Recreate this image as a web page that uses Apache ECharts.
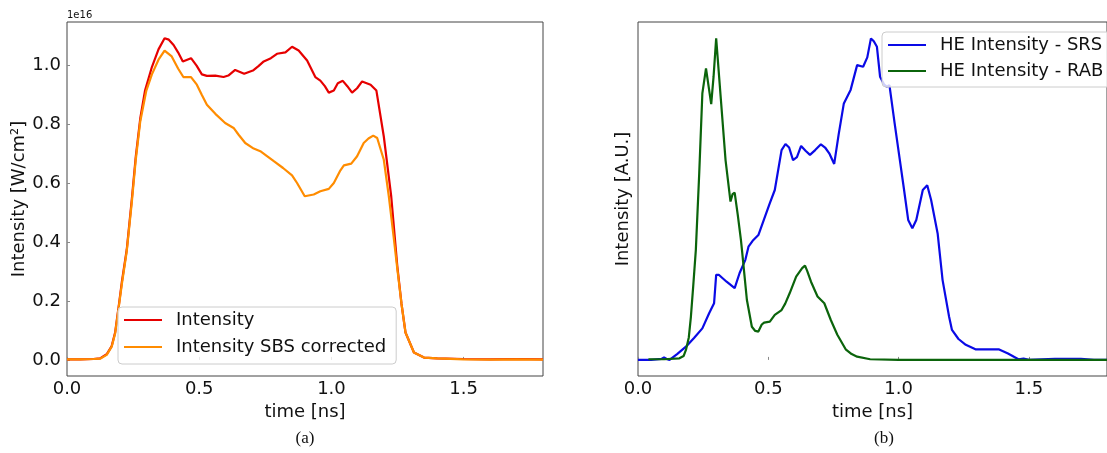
<!DOCTYPE html>
<html>
<head>
<meta charset="utf-8">
<script src="https://cdn.jsdelivr.net/npm/echarts@6/dist/echarts.min.js"></script>
<style>
  html, body { margin: 0; padding: 0; background: #fff; }
  #chart { width: 1107px; height: 453px; }
</style>
</head>
<body>
<div id="chart"></div>
<script>
// ---- Panel (a): laser intensity, units of 1e16 W/cm^2 ----
const timeIntensity = [0, 0.05, 0.10, 0.125, 0.15, 0.169, 0.182, 0.194, 0.207, 0.226, 0.245, 0.26, 0.277, 0.295, 0.321, 0.346, 0.369, 0.385, 0.403, 0.42, 0.438, 0.469, 0.49, 0.51, 0.529, 0.561, 0.592, 0.61, 0.636, 0.670, 0.703, 0.724, 0.744, 0.771, 0.794, 0.826, 0.851, 0.876, 0.908, 0.939, 0.958, 0.975, 0.990, 1.009, 1.024, 1.043, 1.06, 1.078, 1.097, 1.116, 1.148, 1.170, 1.198, 1.226, 1.249, 1.265, 1.280, 1.312, 1.35, 1.4, 1.5, 1.6, 1.7, 1.8];
const intensity = [0.002, 0.002, 0.003, 0.005, 0.019, 0.047, 0.093, 0.172, 0.262, 0.375, 0.545, 0.69, 0.82, 0.915, 0.995, 1.055, 1.093, 1.088, 1.070, 1.045, 1.014, 1.025, 1.000, 0.970, 0.965, 0.966, 0.961, 0.966, 0.985, 0.972, 0.983, 0.998, 1.014, 1.025, 1.040, 1.045, 1.064, 1.051, 1.017, 0.961, 0.949, 0.93, 0.908, 0.915, 0.940, 0.948, 0.93, 0.908, 0.923, 0.946, 0.935, 0.915, 0.759, 0.556, 0.319, 0.19, 0.093, 0.025, 0.008, 0.005, 0.003, 0.002, 0.003, 0.002];

const timeCorrected = [0, 0.05, 0.10, 0.125, 0.15, 0.169, 0.182, 0.194, 0.207, 0.226, 0.245, 0.26, 0.277, 0.30, 0.321, 0.346, 0.369, 0.396, 0.42, 0.440, 0.469, 0.491, 0.51, 0.529, 0.561, 0.598, 0.630, 0.649, 0.674, 0.706, 0.731, 0.755, 0.782, 0.817, 0.851, 0.870, 0.899, 0.933, 0.958, 0.990, 1.009, 1.034, 1.047, 1.075, 1.097, 1.122, 1.140, 1.158, 1.173, 1.198, 1.217, 1.235, 1.249, 1.265, 1.280, 1.312, 1.35, 1.4, 1.5, 1.6, 1.7, 1.8];
const sbsCorrected = [0.002, 0.002, 0.003, 0.004, 0.017, 0.045, 0.09, 0.168, 0.255, 0.37, 0.535, 0.68, 0.81, 0.915, 0.97, 1.02, 1.051, 1.031, 0.99, 0.961, 0.961, 0.935, 0.90, 0.867, 0.836, 0.805, 0.788, 0.765, 0.737, 0.718, 0.709, 0.693, 0.675, 0.652, 0.627, 0.601, 0.556, 0.562, 0.573, 0.581, 0.601, 0.644, 0.661, 0.667, 0.692, 0.737, 0.752, 0.762, 0.754, 0.680, 0.556, 0.42, 0.31, 0.19, 0.093, 0.025, 0.008, 0.005, 0.002, 0.001, 0.002, 0.001];

// ---- Panel (b): normalised hot-electron intensity ----
const timeSRS = [0.0, 0.05, 0.09, 0.1, 0.11, 0.121, 0.15, 0.184, 0.215, 0.247, 0.273, 0.292, 0.300, 0.311, 0.34, 0.371, 0.39, 0.412, 0.424, 0.44, 0.462, 0.485, 0.506, 0.525, 0.551, 0.566, 0.580, 0.595, 0.610, 0.626, 0.643, 0.660, 0.680, 0.702, 0.718, 0.734, 0.753, 0.770, 0.790, 0.816, 0.841, 0.864, 0.880, 0.894, 0.905, 0.917, 0.929, 0.945, 0.955, 0.965, 0.985, 1.005, 1.020, 1.037, 1.053, 1.068, 1.093, 1.110, 1.125, 1.150, 1.169, 1.194, 1.205, 1.23, 1.258, 1.295, 1.33, 1.384, 1.42, 1.46, 1.48, 1.50, 1.6, 1.7, 1.75, 1.8];
const heSRS = [0, 0, 0.003, 0.008, 0.003, 0, 0.018, 0.041, 0.068, 0.098, 0.145, 0.176, 0.264, 0.264, 0.243, 0.223, 0.27, 0.311, 0.352, 0.37, 0.388, 0.44, 0.487, 0.528, 0.652, 0.671, 0.66, 0.621, 0.63, 0.665, 0.65, 0.637, 0.652, 0.670, 0.66, 0.642, 0.609, 0.70, 0.797, 0.839, 0.916, 0.911, 0.94, 0.999, 0.99, 0.973, 0.880, 0.855, 0.849, 0.854, 0.735, 0.621, 0.535, 0.435, 0.409, 0.435, 0.528, 0.543, 0.497, 0.393, 0.248, 0.134, 0.093, 0.065, 0.047, 0.033, 0.033, 0.033, 0.02, 0.002, 0.004, 0.0, 0.003, 0.003, 0.0, 0.0];

const timeRAB = [0.04, 0.10, 0.159, 0.175, 0.184, 0.195, 0.203, 0.212, 0.222, 0.235, 0.247, 0.261, 0.271, 0.281, 0.290, 0.300, 0.318, 0.336, 0.355, 0.363, 0.371, 0.383, 0.395, 0.399, 0.418, 0.437, 0.450, 0.462, 0.475, 0.484, 0.506, 0.525, 0.551, 0.565, 0.582, 0.607, 0.630, 0.641, 0.650, 0.664, 0.689, 0.715, 0.740, 0.765, 0.797, 0.820, 0.841, 0.891, 1.0, 1.2, 1.4, 1.6, 1.8];
const heRAB = [0.002, 0.002, 0.005, 0.012, 0.031, 0.07, 0.134, 0.23, 0.342, 0.58, 0.828, 0.906, 0.85, 0.795, 0.88, 0.999, 0.81, 0.621, 0.492, 0.515, 0.520, 0.45, 0.373, 0.342, 0.186, 0.103, 0.09, 0.088, 0.11, 0.116, 0.119, 0.140, 0.155, 0.175, 0.207, 0.259, 0.285, 0.293, 0.275, 0.243, 0.197, 0.176, 0.124, 0.078, 0.033, 0.018, 0.010, 0.002, 0.0, 0.0, 0.0, 0.0, 0.0];

// ---- Tick labels ----
const timeTicks = [0, 0.5, 1.0, 1.5];
const intensityTicks = [0, 0.2, 0.4, 0.6, 0.8, 1.0];

const pairs = (xs, ys) => xs.map((x, i) => [x, ys[i]]);

const FONT = 'DejaVu Sans';
const INK = '#111';
const SPINE = '#444';
const TICK = '#8a8a8a';

function timeAxis(gridIndex) {
  return {
    type: 'value', gridIndex: gridIndex, min: 0, max: 1.8,
    axisLine: { show: false },
    splitLine: { show: false },
    axisTick: { show: true, inside: true, length: 3, customValues: timeTicks,
                lineStyle: { color: TICK, width: 1 } },
    axisLabel: { customValues: timeTicks, margin: 4, fontSize: 18, fontFamily: FONT, color: INK,
                 formatter: v => v.toFixed(1) },
    name: 'time [ns]', nameLocation: 'middle', nameGap: 25,
    nameTextStyle: { fontSize: 18, fontFamily: FONT, color: INK }
  };
}

function legendBox(left, top, pad, gap) {
  return {
    orient: 'vertical', left: left, top: top, padding: pad, itemGap: gap,
    icon: 'rect', itemWidth: 38, itemHeight: 2,
    backgroundColor: 'rgba(255,255,255,0.8)', borderColor: '#cccccc', borderWidth: 1, borderRadius: 4,
    textStyle: { fontSize: 18, fontFamily: FONT, color: INK, lineHeight: 20, padding: [0, 0, 0, 9] }
  };
}

const chart = echarts.init(document.getElementById('chart'), null, { renderer: 'canvas' });

chart.setOption({
  animation: false,
  backgroundColor: '#ffffff',
  grid: [
    { left: 67, top: 22, width: 476, height: 354, show: true, borderColor: SPINE, borderWidth: 1, backgroundColor: 'transparent' },
    { left: 638, top: 22, width: 475, height: 354, show: true, borderColor: SPINE, borderWidth: 1, backgroundColor: 'transparent' }
  ],
  xAxis: [timeAxis(0), timeAxis(1)],
  yAxis: [
    {
      type: 'value', gridIndex: 0, min: -0.0547, max: 1.148,
      axisLine: { show: false },
      splitLine: { show: false },
      axisTick: { show: true, inside: true, length: 3, customValues: intensityTicks,
                  lineStyle: { color: TICK, width: 1 } },
      axisLabel: { customValues: intensityTicks, margin: 6, fontSize: 18, fontFamily: FONT, color: INK,
                   formatter: v => v.toFixed(1) },
      name: 'Intensity [W/cm²]', nameLocation: 'middle', nameGap: 38,
      nameTextStyle: { fontSize: 18, fontFamily: FONT, color: INK }
    },
    {
      type: 'value', gridIndex: 1, min: -0.05, max: 1.05,
      axisLine: { show: false },
      splitLine: { show: false },
      axisTick: { show: false },
      axisLabel: { show: false },
      name: 'Intensity [A.U.]', nameLocation: 'middle', nameGap: 6,
      nameTextStyle: { fontSize: 18, fontFamily: FONT, color: INK }
    }
  ],
  legend: [
    Object.assign(legendBox(118, 307, [3, 10, 7, 6], 7), { data: ['Intensity', 'Intensity SBS corrected'] }),
    Object.assign(legendBox(882, 32, [3, 9, 6, 6], 6), { data: ['HE Intensity - SRS', 'HE Intensity - RAB'] })
  ],
  graphic: [
    { type: 'text', left: 67, top: 10, style: { text: '1e16', fontSize: 10, fontFamily: FONT, fill: INK } },
    { type: 'text', x: 305, y: 439, style: { text: '(a)', fontSize: 17, fontFamily: 'Liberation Serif', fill: INK, align: 'center', verticalAlign: 'middle' } },
    { type: 'text', x: 884, y: 439, style: { text: '(b)', fontSize: 17, fontFamily: 'Liberation Serif', fill: INK, align: 'center', verticalAlign: 'middle' } }
  ],
  series: [
    { name: 'Intensity', type: 'line', xAxisIndex: 0, yAxisIndex: 0, data: pairs(timeIntensity, intensity),
      symbol: 'none', color: '#e60000', lineStyle: { width: 2.2, color: '#e60000' } },
    { name: 'Intensity SBS corrected', type: 'line', xAxisIndex: 0, yAxisIndex: 0, data: pairs(timeCorrected, sbsCorrected),
      symbol: 'none', color: '#ff8c00', lineStyle: { width: 2.2, color: '#ff8c00' } },
    { name: 'HE Intensity - SRS', type: 'line', xAxisIndex: 1, yAxisIndex: 1, data: pairs(timeSRS, heSRS),
      symbol: 'none', color: '#0a0ae6', lineStyle: { width: 2.2, color: '#0a0ae6' } },
    { name: 'HE Intensity - RAB', type: 'line', xAxisIndex: 1, yAxisIndex: 1, data: pairs(timeRAB, heRAB),
      symbol: 'none', color: '#0b640b', lineStyle: { width: 2.2, color: '#0b640b' } }
  ]
});
</script>
</body>
</html>
